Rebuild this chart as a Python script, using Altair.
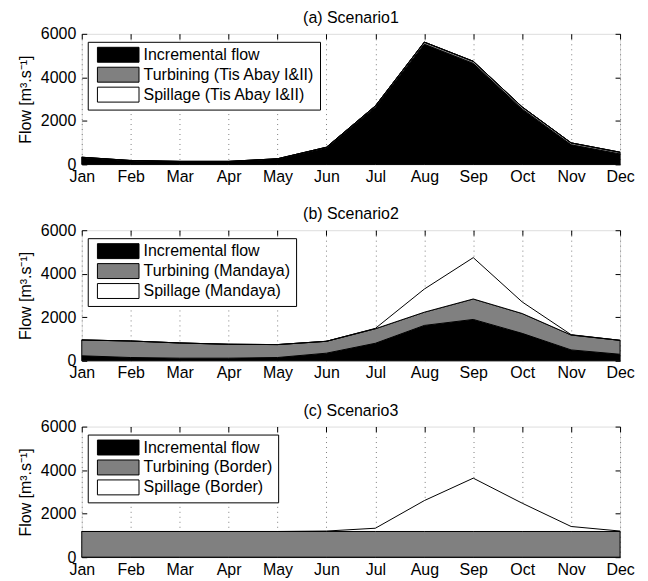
import altair as alt
import pandas as pd

months = ["Jan", "Feb", "Mar", "Apr", "May", "Jun", "Jul", "Aug", "Sep", "Oct", "Nov", "Dec"]
titles = ["(a) Scenario1", "(b) Scenario2", "(c) Scenario3"]
plants = ["Tis Abay I&II", "Mandaya", "Border"]
y_ticks = [0, 2000, 4000, 6000]

# Scenario 1
inc_a = [310, 160, 120, 120, 240, 760, 2630, 5520, 4640, 2540, 900, 480]
turb_a = [20, 20, 20, 20, 20, 30, 60, 100, 100, 100, 90, 80]
spill_a = [0, 0, 0, 0, 0, 0, 0, 0, 0, 0, 0, 0]
# Scenario 2
inc_b = [230, 150, 120, 120, 150, 350, 805, 1625, 1900, 1260, 500, 300]
turb_b = [727, 760, 700, 640, 595, 546, 668, 608, 940, 912, 685, 640]
spill_b = [0, 0, 0, 0, 0, 0, 17, 1063, 1900, 532, 15, 0]
# Scenario 3
inc_c = [0, 0, 0, 0, 0, 0, 0, 0, 0, 0, 0, 0]
turb_c = [1180, 1180, 1180, 1180, 1180, 1180, 1180, 1180, 1180, 1180, 1180, 1180]
spill_c = [0, 0, 0, 0, 0, 20, 150, 1420, 2450, 1300, 230, 20]

FONT = "Liberation Sans"
FS = 16
W, H = 540, 131


def panel(title, plant, inc, turb, spill):
    names = ["Incremental flow", f"Turbining ({plant})", f"Spillage ({plant})"]
    rows = []
    for k, (name, vals) in enumerate(zip(names, [inc, turb, spill])):
        for m, v in zip(months, vals):
            rows.append({"month": m, "series": name, "value": v, "k": k})
    df = pd.DataFrame(rows)
    xs = alt.Scale(type="point", domain=months, padding=0)
    ys = alt.Scale(domain=[0, 6000], nice=False)

    area = alt.Chart(df).mark_area(
        stroke="black", strokeWidth=1, opacity=1, fillOpacity=1, interpolate="linear"
    ).encode(
        x=alt.X("month:O", scale=xs, axis=alt.Axis(
            orient="bottom", title=None, grid=True, gridColor="#808080", gridDash=[1, 4],
            gridWidth=1, ticks=False, domain=False, labelPadding=4, labelAngle=0,
            labelFontSize=FS, labelFont=FONT, labelColor="black", minExtent=0)),
        y=alt.Y("value:Q", stack="zero", scale=ys, axis=alt.Axis(
            orient="left", values=y_ticks, format="d", title="Flow [m³.s⁻¹]", offset=-5,
            tickSize=5, tickColor="black", domain=False, grid=False, labelPadding=6,
            labelFlush=False, labelOverlap=False, labelFontSize=FS, labelFont=FONT,
            labelColor="black", titleFontSize=FS, titleFont=FONT, titleFontWeight="normal",
            titleColor="black", titlePadding=7, minExtent=0)),
        fill=alt.Fill("series:N", scale=alt.Scale(domain=names, range=["black", "#808080", "white"]),
                      legend=alt.Legend(
                          title=None, orient="none", legendX=6, legendY=8, direction="vertical",
                          fillColor="white", strokeColor="black", padding=5,
                          rowPadding=0, symbolType="M-0.47,-1.07H5.49V1.07H-0.47Z",
                          symbolSize=196, symbolStrokeColor="black", symbolStrokeWidth=1,
                          symbolOpacity=1, labelOffset=35, labelFontSize=FS, labelFont=FONT,
                          labelColor="black", labelLimit=400)),
        order=alt.Order("k:Q"),
    )

    ticks = alt.Chart(df).mark_line(opacity=0).encode(
        x=alt.X("month:O", scale=xs, axis=alt.Axis(
            orient="top", title=None, labels=False, grid=False, domain=False, offset=-5,
            tickSize=5, tickColor="black", minExtent=0, maxExtent=0)),
        y=alt.Y("value:Q", scale=ys, axis=alt.Axis(
            orient="right", title=None, labels=False, grid=False, domain=False, offset=-5,
            tickSize=5, tickColor="black", values=y_ticks, minExtent=0, maxExtent=0)),
        detail="series:N",
    )

    return alt.layer(area, ticks).properties(
        width=W, height=H,
        title=alt.Title(title, fontSize=FS, font=FONT, fontWeight="normal", color="black",
                        offset=-13, baseline="alphabetic"),
    )


charts = [
    panel(titles[0], plants[0], inc_a, turb_a, spill_a),
    panel(titles[1], plants[1], inc_b, turb_b, spill_b),
    panel(titles[2], plants[2], inc_c, turb_c, spill_c),
]

chart = alt.vconcat(*charts, spacing=20).resolve_scale(fill="independent").resolve_legend(
    fill="independent"
).properties(
    padding={"left": 8, "top": 0, "right": 5, "bottom": 5}
).configure_view(stroke="black", strokeWidth=1).configure_legend(
    strokeWidth=1.5
).configure(font=FONT, background="white")

chart.save("out.html", embed_options={"renderer": "svg", "actions": False})
